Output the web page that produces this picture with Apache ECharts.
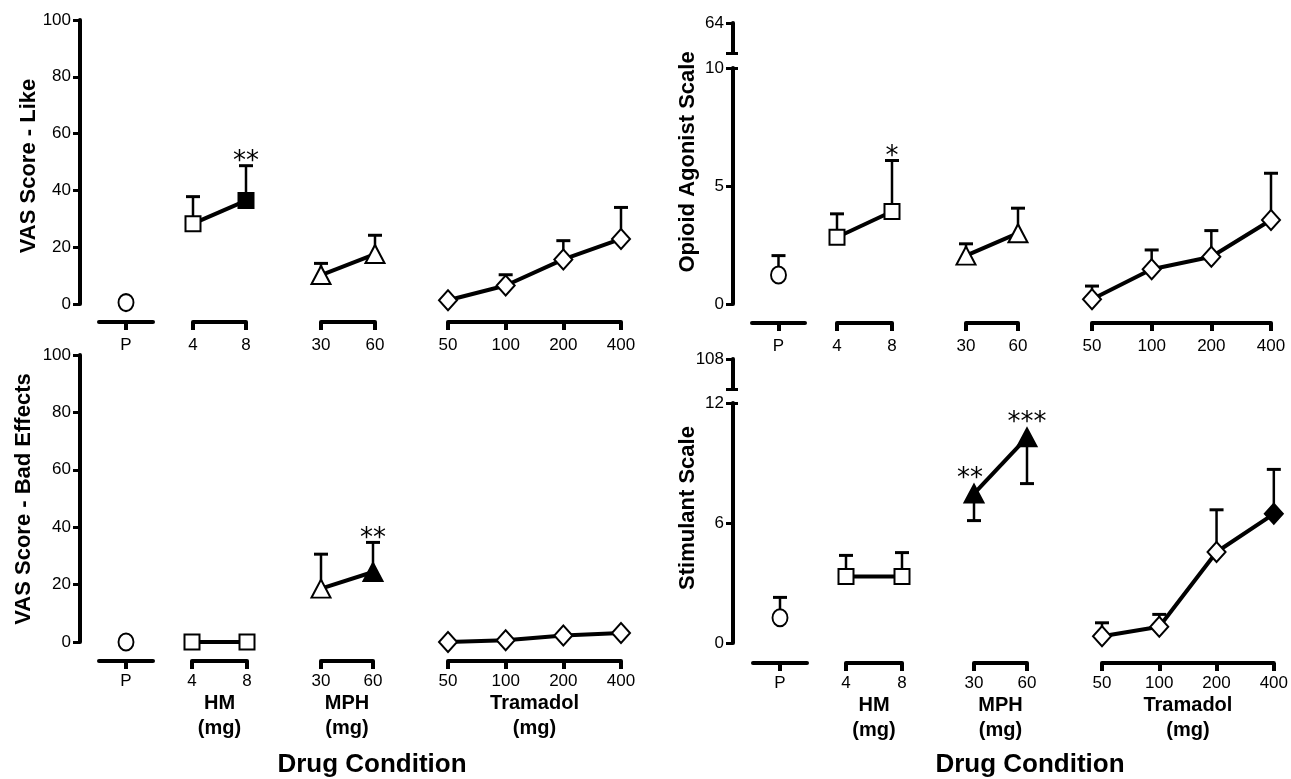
<!DOCTYPE html>
<html><head><meta charset="utf-8">
<script src="https://cdn.jsdelivr.net/npm/echarts@6/dist/echarts.min.js"></script>
<style>html,body{margin:0;padding:0;background:#fff}#c{width:1291px;height:779px}</style>
</head><body><div id="c"></div>
<script>
// ---------- categories / tick labels ----------
const catP = ['P'];
const catHM = ['4', '8'];
const catMPH = ['30', '60'];
const catTram = ['50', '100', '200', '400'];
const groupNames = ['', 'HM\n(mg)', 'MPH\n(mg)', 'Tramadol\n(mg)'];
const yTitles = ['VAS Score - Like', 'Opioid Agonist Scale', 'VAS Score - Bad Effects', 'Stimulant Scale'];
const breakTops = ['64', '108'];

// ---------- VAS Like (mean, mean+SEM cap) ----------
const likeP = [0.5];
const likeHM = [28.3, 36.4];
const likeMPH = [10.2, 17.6];
const likeTram = [1.3, 6.5, 15.7, 22.9];
const likeErrP = [null];
const likeErrHM = [37.8, 48.7];
const likeErrMPH = [14.3, 24.2];
const likeErrTram = [null, 10.3, 22.3, 34.0];
const likeFilled = [[0], [0, 1], [0, 0], [0, 0, 0, 0]];
const likeSig = [[''], ['', '**'], ['', ''], ['', '', '', '']];

// ---------- Opioid Agonist Scale ----------
const oaP = [1.23];
const oaHM = [2.83, 3.92];
const oaMPH = [2.05, 3.0];
const oaTram = [0.2, 1.47, 2.0, 3.56];
const oaErrP = [2.05];
const oaErrHM = [3.82, 6.08];
const oaErrMPH = [2.55, 4.06];
const oaErrTram = [0.76, 2.29, 3.11, 5.54];
const oaFilled = [[0], [0, 0], [0, 0], [0, 0, 0, 0]];
const oaSig = [[''], ['', '*'], ['', ''], ['', '', '', '']];

// ---------- VAS Bad Effects ----------
const badP = [0];
const badHM = [0, 0];
const badMPH = [18.6, 24.4];
const badTram = [0, 0.6, 2.3, 3.1];
const badErrP = [null];
const badErrHM = [null, null];
const badErrMPH = [30.6, 34.7];
const badErrTram = [null, null, null, null];
const badFilled = [[0], [0, 0], [0, 1], [0, 0, 0, 0]];
const badSig = [[''], ['', ''], ['', '**'], ['', '', '', '']];

// ---------- Stimulant Scale ----------
const stP = [1.26];
const stHM = [3.32, 3.32];
const stMPH = [7.47, 10.28];
const stTram = [0.34, 0.81, 4.55, 6.46];
const stErrP = [2.28];
const stErrHM = [4.38, 4.52];
const stErrMPH = [6.12, 7.97];
const stErrTram = [1.01, 1.43, 6.66, 8.68];
const stFilled = [[0], [0, 0], [1, 1], [0, 0, 0, 1]];
const stSig = [[''], ['', ''], ['**', '***'], ['', '', '', '']];

// ---------- layout (positions / styles only) ----------
const FONT = '"Liberation Sans", Arial, Helvetica, sans-serif';
const cats = [catP, catHM, catMPH, catTram];
const symbols = ['circle', 'rect', 'triangle', 'diamond'];
const symSizes = [[15, 17], [15, 15], [19, 18], [18, 20]];

const panels = [
  { top: 20, height: 284, axisX: 80, xOff: 18, min: 0, max: 100, interval: 20, lm: 15, names: false,
    boxes: [[99, 54], [193, 53], [321, 54], [448, 173]],
    vals: [likeP, likeHM, likeMPH, likeTram], errs: [likeErrP, likeErrHM, likeErrMPH, likeErrTram],
    filled: likeFilled, sig: likeSig, title: [29, 166, 0] },
  { top: 68, height: 236, axisX: 733, xOff: 19, min: 0, max: 10, interval: 5, lm: 15, names: false,
    boxes: [[752, 53], [837, 55], [966, 52], [1092, 179]],
    vals: [oaP, oaHM, oaMPH, oaTram], errs: [oaErrP, oaErrHM, oaErrMPH, oaErrTram],
    filled: oaFilled, sig: oaSig, title: [688, 162, 1], brk: [23, 30, 0] },
  { top: 355, height: 287, axisX: 80, xOff: 19, min: 0, max: 100, interval: 20, lm: 12, names: true,
    boxes: [[99, 54], [192, 55], [321, 52], [448, 173]],
    vals: [badP, badHM, badMPH, badTram], errs: [badErrP, badErrHM, badErrMPH, badErrTram],
    filled: badFilled, sig: badSig, title: [24, 499, 2] },
  { top: 403, height: 240, axisX: 733, xOff: 20, min: 0, max: 12, interval: 6, lm: 12, names: true,
    boxes: [[753, 54], [846, 56], [974, 53], [1102, 172]],
    vals: [stP, stHM, stMPH, stTram], errs: [stErrP, stErrHM, stErrMPH, stErrTram],
    filled: stFilled, sig: stSig, title: [688, 508, 3], brk: [359, 30, 1] }
];

const option = {
  animation: false, backgroundColor: '#fff',
  grid: [], xAxis: [], yAxis: [], series: [], graphic: []
};

function yAxisFor(gi, min, max, interval, fmt) {
  const o = {
    type: 'value', gridIndex: gi, min: min, max: max, interval: interval, position: 'left', z: 10,
    axisLine: { show: true, onZero: false, lineStyle: { color: '#000', width: 4 } },
    axisTick: { show: true, length: 7, lineStyle: { color: '#000', width: 3 } },
    axisLabel: { margin: 9, fontSize: 17, color: '#000', fontFamily: FONT },
    splitLine: { show: false }
  };
  if (fmt) o.axisLabel.formatter = fmt;
  return o;
}
function capAxis(gi, min, max, at) {
  return {
    type: 'value', gridIndex: gi, min: min, max: max, position: 'right', z: 10,
    axisLine: { show: false },
    axisTick: { show: true, length: 5, customValues: [at], lineStyle: { color: '#000', width: 3 } },
    axisLabel: { show: false }, splitLine: { show: false }
  };
}

let gi = 0;
panels.forEach(p => {
  option.grid.push({ left: p.axisX, width: 1, top: p.top, height: p.height });
  option.xAxis.push({ type: 'value', gridIndex: gi, show: false, min: 0, max: 1 });
  option.yAxis.push(yAxisFor(gi, p.min, p.max, p.interval));
  if (p.brk) option.yAxis.push(capAxis(gi, p.min, p.max, p.max));
  gi++;

  if (p.brk) {
    const label = breakTops[p.brk[2]];
    option.grid.push({ left: p.axisX, width: 1, top: p.brk[0], height: p.brk[1] });
    option.xAxis.push({ type: 'value', gridIndex: gi, show: false, min: 0, max: 1 });
    option.yAxis.push(yAxisFor(gi, 0, 1, 1, v => (v === 1 ? label : '')));
    option.yAxis.push(capAxis(gi, 0, 1, 0));
    gi++;
  }

  p.boxes.forEach((b, k) => {
    option.grid.push({ left: b[0], width: b[1], top: p.top, height: p.height });
    option.xAxis.push({
      type: 'category', gridIndex: gi, data: cats[k], boundaryGap: cats[k].length === 1,
      position: 'bottom', offset: p.xOff,
      axisLine: { show: true, onZero: false, lineStyle: { color: '#000', width: 4 } },
      axisTick: { show: true, alignWithLabel: true, length: 8, lineStyle: { color: '#000', width: 4 } },
      axisLabel: { margin: p.lm, fontSize: 17, color: '#000', fontFamily: FONT, interval: 0 },
      splitLine: { show: false },
      name: p.names ? groupNames[k] : '', nameLocation: 'middle', nameGap: 24,
      nameTextStyle: { fontSize: 20, fontWeight: 'bold', color: '#000', fontFamily: FONT, lineHeight: 25 }
    });
    option.yAxis.push({ type: 'value', gridIndex: gi, min: p.min, max: p.max, show: false });
    const yi = option.yAxis.length - 1;
    const vals = p.vals[k], errs = p.errs[k], sig = p.sig[k], fill = p.filled[k];
    option.series.push({
      type: 'custom', xAxisIndex: gi, yAxisIndex: yi, z: 2, clip: false,
      data: vals.map((v, i) => [i, v]),
      renderItem: (params, api) => {
        const i = params.dataIndex;
        const v = vals[i], e = errs[i];
        const p0 = api.coord([i, v]);
        const ch = [];
        if (e !== null && e !== undefined) {
          const p1 = api.coord([i, e]);
          ch.push({ type: 'line', shape: { x1: p0[0], y1: p0[1], x2: p1[0], y2: p1[1] },
            style: { stroke: '#000', lineWidth: 2.5 } });
          ch.push({ type: 'line', shape: { x1: p1[0] - 7, y1: p1[1], x2: p1[0] + 7, y2: p1[1] },
            style: { stroke: '#000', lineWidth: 3 } });
        }
        if (sig[i]) {
          let tx = p0[0], ty;
          if (e !== null && e >= v) { ty = api.coord([i, e])[1] - 3; }
          else { ty = p0[1] - 14; if (i === 0) tx -= 4; }
          ch.push({ type: 'text', x: tx, y: ty,
            style: { text: sig[i], font: '26px "DejaVu Sans"', fill: '#000',
              align: 'center', verticalAlign: 'middle' } });
        }
        return { type: 'group', children: ch };
      }
    });
    option.series.push({
      type: 'line', xAxisIndex: gi, yAxisIndex: yi, z: 3, clip: false,
      symbol: symbols[k], symbolSize: symSizes[k], showSymbol: true, showAllSymbol: true,
      lineStyle: { color: '#000', width: 4 },
      itemStyle: { color: '#fff', borderColor: '#000', borderWidth: 2 },
      emphasis: { disabled: true },
      data: vals.map((v, i) => ({ value: v, itemStyle: { color: fill[i] ? '#000' : '#fff' } }))
    });
    gi++;
  });

  option.graphic.push({
    type: 'text', x: p.title[0], y: p.title[1], rotation: Math.PI / 2,
    style: { text: yTitles[p.title[2]], font: 'bold 22px ' + FONT, fill: '#000',
      align: 'center', verticalAlign: 'middle' }
  });
});

option.graphic.push(
  { type: 'text', x: 372, y: 765,
    style: { text: 'Drug Condition', font: 'bold 26px ' + FONT, fill: '#000', align: 'center', verticalAlign: 'middle' } },
  { type: 'text', x: 1030, y: 765,
    style: { text: 'Drug Condition', font: 'bold 26px ' + FONT, fill: '#000', align: 'center', verticalAlign: 'middle' } }
);

const chart = echarts.init(document.getElementById('c'), null, { renderer: 'canvas' });
chart.setOption(option);
</script>
</body></html>
